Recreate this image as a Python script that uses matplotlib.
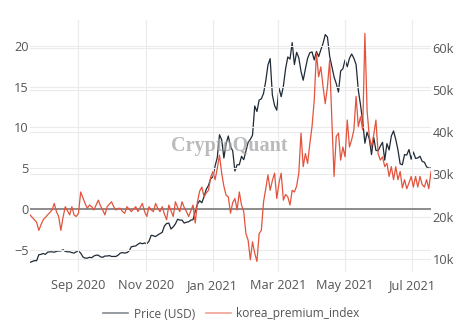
import matplotlib
matplotlib.use("Agg")
import matplotlib.pyplot as plt
import matplotlib.dates as mdates
from matplotlib.lines import Line2D
from matplotlib.ticker import FuncFormatter
import pandas as pd

# Two-day samples, 19 Jul 2020 -> 18 Jul 2021
start_date = "2020-07-19"
step_days = 2

korea_premium_index = [
    -0.7, -1.0, -1.3, -1.6, -2.6, -1.9, -1.3, -1.0, -0.7, -0.4,
    -0.1, 0.7, -0.3, -0.9, -2.6, -1.0, 0.3, -0.2, -0.7, 0.3,
    -0.7, -0.9, -0.5, 2.1, 1.4, 0.7, 0.1, 0.5, 0.3, -0.1,
    0.5, 1.1, 0.4, -0.1, -0.7, 0.3, 0.6, 0.9, 0.3, -0.1,
    0.1, 0.1, -0.3, -0.5, 0.3, 0.0, -0.3, 0.0, 0.3, -0.3,
    0.2, 0.7, -0.3, -0.9, 0.3, -0.1, -0.3, 0.7, 0.1, -0.3,
    0.3, -0.6, -1.3, 0.5, -0.2, -0.9, 0.9, 0.2, -0.3, 0.9,
    0.2, -0.3, -0.9, -0.2, 0.5, -1.7, 0.9, 2.2, 2.7, 1.5,
    2.0, 2.3, 3.9, 4.6, 3.6, 5.0, 6.6, 4.4, 2.8, 1.7,
    1.5, -0.5, 0.8, 1.3, -0.1, 2.1, 0.5, -0.3, -3.0, -3.8,
    -6.2, -4.0, -5.4, -6.4, -3.0, -2.6, 0.9, 2.5, 4.2, 2.3,
    3.5, 4.4, 1.3, 3.2, 4.4, 1.1, 1.8, 1.5, 0.5, 2.3,
    2.1, 2.8, 4.4, 9.3, 5.2, 6.8, 5.6, 8.0, 10.1, 13.3,
    19.1, 16.2, 17.4, 15.0, 12.9, 15.0, 18.2, 10.9, 4.0, 8.9,
    9.3, 6.0, 7.6, 6.4, 10.9, 7.6, 8.5, 9.7, 13.8, 10.1,
    11.3, 9.7, 21.5, 12.0, 8.9, 7.6, 9.1, 10.9, 6.8, 6.0,
    6.4, 5.2, 5.6, 4.0, 5.2, 3.6, 5.2, 3.6, 4.6, 2.6,
    3.6, 2.5, 3.2, 4.0, 2.7, 4.0, 2.7, 4.0, 3.0, 2.7,
    3.6, 2.5, 4.6,
]

price_usd = [
    9200, 9400, 9600, 9600, 11000, 11100, 11300, 11100, 11600, 11700,
    11700, 11600, 11800, 11900, 11900, 12200, 11800, 11700, 11700, 11500,
    11400, 11700, 11900, 11400, 10500, 10200, 10200, 10400, 10300, 10700,
    10900, 10900, 10500, 10400, 10700, 10700, 10800, 10600, 10600, 10600,
    10900, 11400, 11500, 11400, 11500, 11900, 12900, 13000, 13100, 13500,
    13800, 13600, 13800, 13600, 14200, 15600, 15500, 15300, 15700, 16000,
    16300, 17800, 18400, 18500, 17100, 17600, 18300, 19400, 19200, 19200,
    18500, 18700, 18800, 19200, 19300, 21300, 23000, 23800, 23300, 24800,
    26500, 27400, 29000, 29400, 32000, 34000, 39400, 38200, 33900, 37300,
    39100, 36600, 35600, 30800, 32300, 32300, 34300, 33500, 35500, 37600,
    38300, 39300, 46200, 44900, 47600, 47900, 49200, 52100, 55900, 57400,
    48800, 46300, 45200, 50500, 48400, 50900, 55000, 57800, 57300, 61200,
    56000, 58900, 57600, 54400, 52300, 55000, 57500, 58800, 59000, 57100,
    59100, 57900, 59500, 61000, 63100, 62500, 58000, 55500, 53100, 51500,
    49500, 54500, 55000, 57100, 55500, 57500, 58500, 57500, 56000, 50000,
    46500, 42500, 37400, 40000, 38400, 34700, 38800, 35700, 35600, 36700,
    37600, 33400, 37300, 35800, 39100, 40300, 38300, 35800, 32500, 32300,
    34700, 34600, 35900, 33600, 35300, 33800, 33900, 34300, 33100, 32900,
    31800, 31500, 31500,
]

series_names = ["Price (USD)", "korea_premium_index"]
left_ticks = [-5, 0, 5, 10, 15, 20]
right_ticks = [10000, 20000, 30000, 40000, 50000, 60000]
x_tick_dates = ["2020-09-01", "2020-11-01", "2021-01-01",
                "2021-03-01", "2021-05-01", "2021-07-01"]

dates = pd.date_range(start_date, periods=len(price_usd), freq=f"{step_days}D")

PRICE_COLOR = "#1f2a36"
KPI_COLOR = "#e4533d"
GRID_COLOR = "#ebebeb"
TEXT_COLOR = "#555555"
FONT = ["Open Sans", "DejaVu Sans"]

plt.rcParams["font.family"] = FONT

W, H = 459, 330
fig = plt.figure(figsize=(W / 100, H / 100), dpi=100)
fig.patch.set_facecolor("white")

ax_left, ax_right_px, ax_top, ax_bottom = 30, 431, 20, 272
rect = [ax_left / W, 1 - ax_bottom / H, (ax_right_px - ax_left) / W,
        (ax_bottom - ax_top) / H]
ax = fig.add_axes(rect)
ax2 = ax.twinx()

# price axis sits underneath the premium-index axis
ax.set_zorder(ax2.get_zorder() + 1)
ax.patch.set_visible(False)
ax2.patch.set_facecolor("white")

ax2.plot(dates, price_usd, color=PRICE_COLOR, lw=0.9, zorder=3)
ax.plot(dates, korea_premium_index, color=KPI_COLOR, lw=0.9, zorder=3)
ax.axhline(0, color="#8c8c8c", lw=1.4, zorder=2)

ax.set_xlim(dates[0], dates[-1])
ax.set_ylim(-7.69, 23.14)
ax2.set_ylim(6920, 66550)

ax.set_yticks(left_ticks)
ax.yaxis.set_major_formatter(FuncFormatter(lambda v, p: f"{int(v)}".replace("-", "\u2212")))
ax2.set_yticks(right_ticks)
ax2.yaxis.set_major_formatter(FuncFormatter(lambda v, p: f"{int(v / 1000)}k"))
ax.set_xticks(pd.to_datetime(x_tick_dates))
ax.xaxis.set_major_formatter(mdates.DateFormatter("%b %Y"))

for a in (ax, ax2):
    for s in a.spines.values():
        s.set_visible(False)
    a.tick_params(length=0, labelsize=9.2, labelcolor=TEXT_COLOR)

ax.tick_params(axis="y", pad=1)
ax.tick_params(axis="x", pad=5)
ax2.tick_params(axis="y", pad=1)

ax.grid(True, axis="both", color=GRID_COLOR, lw=0.8, zorder=0)
ax2.grid(True, axis="y", color=GRID_COLOR, lw=0.8, zorder=0)
ax.set_axisbelow(True)
ax2.set_axisbelow(True)

# watermark
fig.text(229.5 / W, 1 - 146 / H, "CryptoQuant", ha="center", va="center",
         fontsize=14.5, fontweight="bold", family=["Liberation Serif", "DejaVu Serif"],
         color="#a5a5a5", alpha=0.75, zorder=1)

handles = [Line2D([], [], color=PRICE_COLOR, lw=1.2, alpha=0.55),
           Line2D([], [], color=KPI_COLOR, lw=1.2, alpha=0.55)]
fig.legend(handles, series_names, loc="center", bbox_to_anchor=(0.504, 1 - 314 / H),
           ncol=2, frameon=False, fontsize=8.6, labelcolor=TEXT_COLOR,
           handlelength=2.1, handletextpad=0.45, columnspacing=0.9)

fig.savefig("out.png", dpi=100, facecolor="white")
